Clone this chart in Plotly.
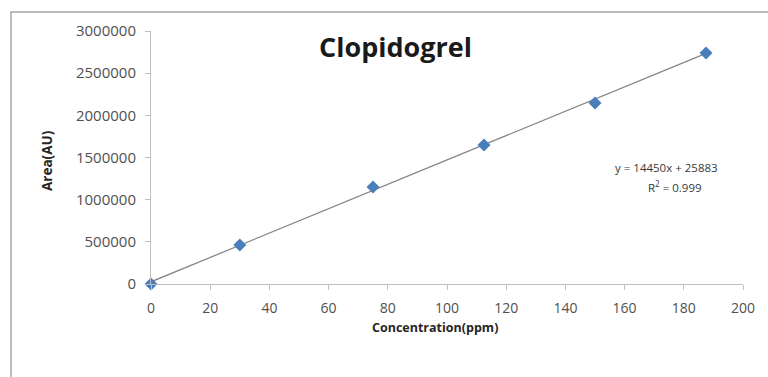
import plotly.graph_objects as go
import numpy as np

concentration = [0, 30, 75, 112.5, 150, 187.5]
area = [0, 462000, 1150000, 1648000, 2146000, 2739000]
slope = 14450
intercept = 25883
x_ticks = [0, 20, 40, 60, 80, 100, 120, 140, 160, 180, 200]
y_ticks = [0, 500000, 1000000, 1500000, 2000000, 2500000, 3000000]

fit_x = np.array([concentration[0], concentration[-1]])
fit_y = slope * fit_x + intercept

W, H = 768, 377
L, R, T, B = 151, 25, 31, 93
pw, ph = W - L - R, H - T - B

def px(x):
    return (x - L) / pw

def py(y):
    return (H - B - y) / ph

fig = go.Figure()
fig.add_trace(go.Scatter(x=fit_x, y=fit_y, mode="lines",
                         line=dict(color="#868686", width=1.3), hoverinfo="skip"))
fig.add_trace(go.Scatter(x=concentration, y=area, mode="markers", cliponaxis=False,
                         marker=dict(symbol="diamond", size=10, color="#4a7ebb",
                                     line=dict(width=0))))

font = "Open Sans, Lato, sans-serif"
fig.update_layout(
    width=W, height=H,
    margin=dict(l=L, r=R, t=T, b=B),
    paper_bgcolor="white", plot_bgcolor="white",
    showlegend=False,
    font=dict(family=font, color="#505050", size=14),
    xaxis=dict(range=[0, 200], tickvals=x_ticks, ticktext=[str(v) for v in x_ticks],
               showgrid=False, zeroline=False, showline=True, linecolor="#bfbfbf",
               linewidth=1, ticks="outside", ticklen=5, tickcolor="#bfbfbf",
               ticklabelstandoff=6,
               tickfont=dict(size=14, color="#505050"), fixedrange=True),
    yaxis=dict(range=[0, 3000000], tickvals=y_ticks, ticktext=[str(v) for v in y_ticks],
               showgrid=False, zeroline=False, showline=True, linecolor="#bfbfbf",
               linewidth=1, ticks="outside", ticklen=5, tickcolor="#bfbfbf",
               ticklabelstandoff=6,
               tickfont=dict(size=15, color="#505050"), fixedrange=True),
    shapes=[dict(type="rect", xref="paper", yref="paper",
                 x0=px(11), x1=px(800), y0=py(420), y1=py(12),
                 line=dict(color="#a6a6a6", width=1.5), fillcolor="rgba(0,0,0,0)")],
    annotations=[
        dict(text="<b>Clopidogrel</b>", xref="paper", yref="paper",
             x=px(395), y=py(47), showarrow=False, xanchor="center", yanchor="middle",
             font=dict(size=27, color="#1a1a1a", family=font)),
        dict(text="<b>Area(AU)</b>", xref="paper", yref="paper",
             x=px(47), y=py(161), showarrow=False, textangle=-90,
             xanchor="center", yanchor="middle",
             font=dict(size=13.5, color="#262626", family=font)),
        dict(text="<b>Concentration(ppm)</b>", xref="paper", yref="paper",
             x=px(435), y=py(328), showarrow=False, xanchor="center", yanchor="middle",
             font=dict(size=12.5, color="#262626", family=font)),
        dict(text=f"y = {slope}x + {intercept}", xref="paper", yref="paper",
             x=px(666), y=py(167), showarrow=False, xanchor="center", yanchor="middle",
             font=dict(size=11.5, color="#383838", family=font)),
        dict(text="R<sup>2</sup> = 0.999", xref="paper", yref="paper",
             x=px(675), y=py(186), showarrow=False, xanchor="center", yanchor="middle",
             font=dict(size=11.5, color="#383838", family=font)),
    ],
)
fig.write_html("out.html")
